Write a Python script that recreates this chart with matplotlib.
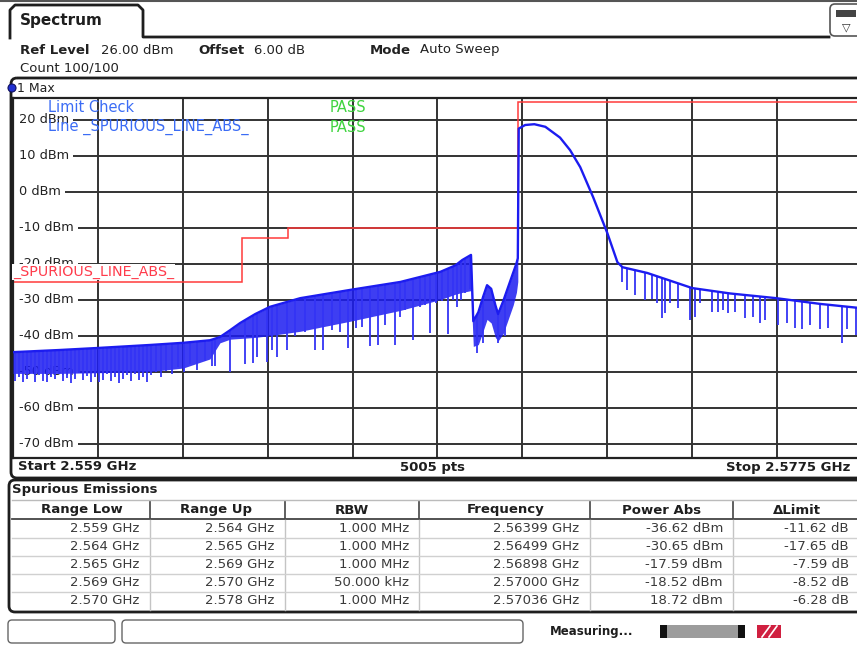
import numpy as np
import matplotlib
matplotlib.use("Agg")
import matplotlib.pyplot as plt
from matplotlib.patches import FancyBboxPatch, Rectangle, Circle

# ---------------- data ----------------
f_start, f_stop = 2.559, 2.5775          # GHz
ref_level, y_bottom = 26.0, -74.0        # dBm
y_ticks = [20, 10, 0, -10, -20, -30, -40, -50, -60, -70]
y_tick_labels = [f"{v} dBm" for v in y_ticks]

limit_edges = [2.559, 2.564, 2.565, 2.570, 2.5775]
limit_levels = [-25, -13, -10, 25]

# upper envelope of the max-hold trace
top_f = [2.55900, 2.56002, 2.56090, 2.56199, 2.56271, 2.56329, 2.56351, 2.56373,
         2.56395, 2.56428, 2.56460, 2.56526, 2.56635, 2.56744, 2.56831, 2.56864,
         2.56879, 2.56898, 2.56903, 2.56914, 2.56925, 2.56933, 2.56942, 2.56951,
         2.56957, 2.56968, 2.56979, 2.56990, 2.56997, 2.57000,
         2.57002, 2.57016, 2.57036, 2.57060, 2.57092, 2.57114, 2.57136, 2.57164,
         2.57195, 2.57217, 2.57228, 2.57282, 2.57380, 2.57463, 2.57563, 2.57659,
         2.57750]
top_db = [-44.6, -44.0, -43.4, -42.6, -42.0, -41.3, -40.4, -38.5,
          -36.5, -34.0, -32.0, -29.6, -27.3, -25.1, -22.3, -20.5,
          -19.0, -17.59, -36.0, -33.5, -29.0, -26.0, -27.0, -31.5,
          -34.0, -30.5, -26.5, -22.5, -20.0, -18.52,
          17.5, 18.5, 18.72, 18.0, 15.0, 11.5, 6.8, -1.5,
          -11.5, -19.6, -21.0, -22.6, -26.8, -28.3, -29.6, -31.2,
          -32.4]
# lower edge of the dense noise band (same frequencies as first 30 points)
band_bot_db = [-50.5, -50.5, -50.3, -50.0, -49.0, -46.5, -42.0, -41.0,
               -40.8, -40.5, -40.0, -38.8, -36.0, -33.0, -30.0, -28.5,
               -28.0, -27.5, -43.0, -42.5, -38.5, -35.5, -36.5, -40.5,
               -41.5, -39.5, -35.5, -31.5, -28.0, -25.0]

# downward noise spikes: frequency (GHz) and lowest level (dBm)
spike_f = [2.55904, 2.55913, 2.55922, 2.55931, 2.55939, 2.55948, 2.55957, 2.55965,
           2.55974, 2.55983, 2.55992, 2.56000, 2.56009, 2.56018, 2.56026, 2.56035,
           2.56044, 2.56053, 2.56061, 2.56070, 2.56079, 2.56087, 2.56096, 2.56105,
           2.56114, 2.56122, 2.56131, 2.56140, 2.56148, 2.56157, 2.56166, 2.56175,
           2.56183, 2.56192, 2.56201, 2.56212, 2.56223, 2.56233, 2.56246, 2.56259,
           2.56273, 2.56286, 2.56301, 2.56318, 2.56334,
           2.56340, 2.56373, 2.56406, 2.56423, 2.56432, 2.56454, 2.56465, 2.56476,
           2.56497, 2.56515, 2.56537, 2.56558, 2.56576, 2.56595, 2.56613, 2.56630,
           2.56648, 2.56661, 2.56678, 2.56696, 2.56711, 2.56733, 2.56744, 2.56755,
           2.56772, 2.56787, 2.56798, 2.56809, 2.56822, 2.56835, 2.56848, 2.56859,
           2.56868, 2.56877, 2.56885, 2.56896,
           2.56912, 2.56925, 2.56957, 2.56973,
           2.57228, 2.57239, 2.57256, 2.57278, 2.57293, 2.57304, 2.57315, 2.57321,
           2.57332, 2.57350, 2.57376, 2.57387, 2.57398, 2.57424, 2.57437, 2.57448,
           2.57459, 2.57474, 2.57496, 2.57513, 2.57528, 2.57539, 2.57566, 2.57587,
           2.57605, 2.57620, 2.57637, 2.57659, 2.57677, 2.57707, 2.57718, 2.57736]
spike_db = [-52.5, -51.5, -53.0, -52.0, -50.5, -52.8, -51.0, -52.5,
            -53.0, -51.5, -52.0, -50.8, -52.6, -51.8, -53.2, -52.0,
            -50.5, -52.4, -51.2, -52.8, -51.6, -53.0, -52.2, -50.8,
            -52.5, -51.5, -53.3, -52.0, -51.0, -52.6, -50.6, -52.2,
            -51.4, -52.8, -51.0, -50.2, -51.6, -49.8, -50.8, -48.6,
            -50.2, -47.8, -49.5, -47.0, -48.5,
            -48.5, -50.0, -48.0, -47.6, -46.0, -47.3, -44.0, -46.0,
            -44.0, -40.0, -39.0, -44.0, -44.0, -38.5, -39.0, -43.4,
            -38.0, -37.5, -43.0, -42.6, -37.0, -42.6, -34.8, -33.0,
            -41.2, -32.0, -31.5, -39.3, -31.0, -30.5, -39.6, -30.0,
            -32.0, -30.0, -28.2, -27.0,
            -44.8, -42.0, -42.0, -40.0,
            -25.1, -27.3, -28.7, -30.1, -29.9, -31.0, -35.1, -33.7,
            -31.0, -32.4, -35.7, -34.8, -31.0, -33.4, -33.4, -32.9,
            -33.7, -33.4, -35.1, -34.8, -36.5, -35.7, -37.1, -36.5,
            -37.9, -38.1, -37.1, -38.1, -37.9, -42.0, -38.1, -39.8]

# results table
col_heads = ["Range Low", "Range Up", "RBW", "Frequency", "Power Abs", "\u0394Limit"]
range_low = ["2.559 GHz", "2.564 GHz", "2.565 GHz", "2.569 GHz", "2.570 GHz"]
range_up = ["2.564 GHz", "2.565 GHz", "2.569 GHz", "2.570 GHz", "2.578 GHz"]
rbw = ["1.000 MHz", "1.000 MHz", "1.000 MHz", "50.000 kHz", "1.000 MHz"]
peak_freq = ["2.56399 GHz", "2.56499 GHz", "2.56898 GHz", "2.57000 GHz", "2.57036 GHz"]
power_abs = ["-36.62 dBm", "-30.65 dBm", "-17.59 dBm", "-18.52 dBm", "18.72 dBm"]
delta_limit = ["-11.62 dB", "-17.65 dB", "-7.59 dB", "-8.52 dB", "-6.28 dB"]

# ---------------- figure ----------------
W, H = 857, 646
fig = plt.figure(figsize=(W / 100, H / 100), dpi=100)
fig.patch.set_facecolor("white")

def px_axes(x0, y0, x1, y1):
    return [x0 / W, 1 - y1 / H, (x1 - x0) / W, (y1 - y0) / H]

TRACE = "#1c1cf0"
SPIKE = "#3434f5"
GRID = "#333333"

ax = fig.add_axes(px_axes(13, 98, 862, 458))
ax.set_xlim(f_start, f_stop)
ax.set_ylim(y_bottom, ref_level)
ax.set_xticks(np.linspace(f_start, f_stop, 11)[1:-1])
ax.set_yticks(y_ticks)
ax.tick_params(length=0, labelbottom=False, labelleft=False)
ax.grid(True, color=GRID, lw=1.4, zorder=0)
for s in ax.spines.values():
    s.set_color("#222222")
    s.set_linewidth(1.6)

nb = len(band_bot_db)
ax.fill_between(top_f[:nb], band_bot_db, top_db[:nb], color=TRACE, alpha=0.85,
                lw=0, zorder=3)
spike_top = np.interp(spike_f, top_f, top_db)
ax.vlines(spike_f, spike_db, spike_top, color=SPIKE, lw=1.3, zorder=3)
ax.plot(top_f, top_db, color=TRACE, lw=1.7, zorder=4)
ax.stairs(limit_levels, limit_edges, baseline=None, color="#ff3b3b", lw=1.1, zorder=2)

for v, lab in zip(y_ticks, y_tick_labels):
    ax.text(0.0065, v, lab, transform=ax.get_yaxis_transform(), ha="left",
            va="center", fontsize=9.3, color="#222222", zorder=2,
            bbox=dict(boxstyle="square,pad=0.35", fc="white", ec="none"))

# ---------------- chrome overlay (pixel coordinates) ----------------
ov = fig.add_axes([0, 0, 1, 1])
ov.set_xlim(0, W)
ov.set_ylim(H, 0)
ov.axis("off")
ov.patch.set_alpha(0)
ov.set_zorder(5)

DARK = "#1e1e1e"
ov.plot([0, W], [1, 1], color="#555555", lw=1.5)
# Spectrum tab
ov.plot([10, 10, 15, 138, 143, 143, 829], [38, 10, 5, 5, 10, 37, 37], color=DARK, lw=2)
ov.text(20, 21, "Spectrum", fontsize=11, weight="bold", va="center", color=DARK)
ov.add_patch(FancyBboxPatch((830, 4), 40, 32, boxstyle="round,pad=0,rounding_size=5",
                            fc="white", ec="#555555", lw=1.2))
ov.add_patch(Rectangle((836, 10), 20, 7, fc="#444444", ec="none"))
ov.text(846, 27, "\u25BD", fontsize=8, ha="center", va="center", color="#333333")

hdr = [(20, "Ref Level", "bold"), (101, "26.00 dBm", "normal"),
       (198, "Offset", "bold"), (254, "6.00 dB", "normal"),
       (370, "Mode", "bold"), (420, "Auto Sweep", "normal")]
for x, s, w in hdr:
    ov.text(x, 50, s, fontsize=9.5, weight=w, va="center", color="#222222")
ov.text(20, 68, "Count 100/100", fontsize=9.5, va="center", color="#222222")

# diagram frame
ov.add_patch(FancyBboxPatch((11, 78), 870, 400, boxstyle="round,pad=0,rounding_size=6",
                            fc="none", ec=DARK, lw=2))
ov.add_patch(Circle((12, 88), 4, fc="#2030d0", ec="#101060", lw=0.8))
ov.text(17, 88, "1 Max", fontsize=9, va="center", color="#222222")

ov.text(48, 108, "Limit Check", fontsize=10.5, va="center", color="#3b6cf5")
ov.text(48, 127, "Line _SPURIOUS_LINE_ABS_", fontsize=10.5, va="center", color="#3b6cf5")
ov.text(330, 108, "PASS", fontsize=10.5, va="center", color="#3fd43f")
ov.text(330, 127, "PASS", fontsize=10.5, va="center", color="#3fd43f")
ov.text(13, 272, "_SPURIOUS_LINE_ABS_", fontsize=10.3, va="center", color="#ff3b4b",
        bbox=dict(boxstyle="square,pad=0.05", fc="white", ec="none"))

ov.text(18, 467, "Start 2.559 GHz", fontsize=9.5, weight="bold", va="center", color=DARK)
ov.text(433, 467, "5005 pts", fontsize=9.5, weight="bold", va="center", ha="center", color=DARK)
ov.text(850, 467, "Stop 2.5775 GHz", fontsize=9.5, weight="bold", va="center", ha="right", color=DARK)

# table
ov.add_patch(FancyBboxPatch((9, 480), 870, 132, boxstyle="round,pad=0,rounding_size=6",
                            fc="none", ec=DARK, lw=2))
ov.text(12, 490, "Spurious Emissions", fontsize=9.5, weight="bold", va="center", color=DARK)
ov.plot([12, W], [500, 500], color="#bbbbbb", lw=1)
ov.plot([12, W], [519, 519], color="#444444", lw=1.3)
seps = [150, 285, 419, 590, 733]
for x in seps:
    ov.plot([x, x], [502, 518], color="#444444", lw=1.2)
    ov.plot([x, x], [520, 610], color="#c4c4c4", lw=1)
for y in [538, 556, 574, 592]:
    ov.plot([12, W], [y, y], color="#d0d0d0", lw=1)
head_x = [82, 216, 352, 506, 662, 797]
for x, s in zip(head_x, col_heads):
    ov.text(x, 510, s, fontsize=9.5, weight="bold", ha="center", va="center", color=DARK)
right_x = [139, 274, 409, 579, 723, 849]
cols = [range_low, range_up, rbw, peak_freq, power_abs, delta_limit]
row_y = [529, 547, 565, 583, 601]
for x, col in zip(right_x, cols):
    for y, s in zip(row_y, col):
        ov.text(x, y, s, fontsize=9.5, ha="right", va="center", color="#3a3a3a")

# status bar
ov.add_patch(FancyBboxPatch((8, 620), 107, 23, boxstyle="round,pad=0,rounding_size=4",
                            fc="white", ec="#666666", lw=1))
ov.add_patch(FancyBboxPatch((122, 620), 401, 23, boxstyle="round,pad=0,rounding_size=4",
                            fc="white", ec="#666666", lw=1))
ov.text(550, 631, "Measuring...", fontsize=8.5, weight="bold", va="center", color=DARK)
ov.add_patch(Rectangle((662, 625), 80, 13, fc="#9c9c9c", ec="none"))
ov.add_patch(Rectangle((660, 625), 7, 13, fc="#111111", ec="none"))
ov.add_patch(Rectangle((738, 625), 7, 13, fc="#111111", ec="none"))
ov.add_patch(Rectangle((757, 625), 24, 13, fc="#d02040", ec="none"))
ov.plot([762, 770], [637, 626], color="white", lw=1.2)
ov.plot([769, 777], [637, 626], color="white", lw=1.2)

fig.savefig("out.png", dpi=100, facecolor="white")
